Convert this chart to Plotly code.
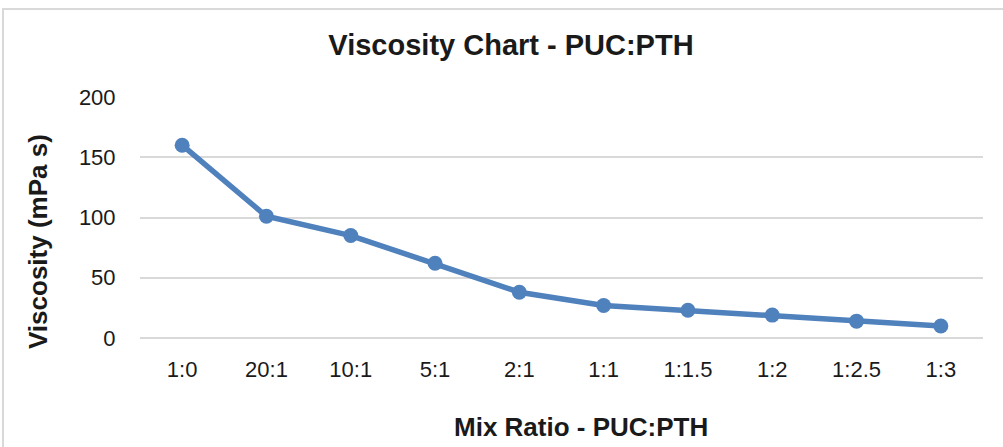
import plotly.graph_objects as go

ratios = ["1:0", "20:1", "10:1", "5:1", "2:1", "1:1", "1:1.5", "1:2", "1:2.5", "1:3"]
viscosity = [160, 101, 85, 62, 38, 27, 23, 19, 14, 10]

L, R, T, B = 140, 20, 97, 109
W, H = 1003, 447
pw, ph = W - L - R, H - T - B

def px(x):
    return (x - L) / pw

def py(y):
    return 1 - (y - T) / ph

fig = go.Figure()
fig.add_trace(go.Scatter(
    x=ratios, y=viscosity, mode="lines+markers",
    line=dict(color="#4F81BD", width=5.5),
    marker=dict(color="#4F81BD", size=15),
    showlegend=False,
))

txt = "#1a1a1a"
fig.update_layout(
    width=W, height=H,
    margin=dict(l=L, r=R, t=T, b=B),
    paper_bgcolor="white", plot_bgcolor="white",
    font=dict(family="Liberation Sans, Arial, sans-serif", color=txt),
    title=dict(text="<b>Viscosity Chart - PUC:PTH</b>", x=px(511), xref="paper",
               xanchor="center", y=1 - 45 / H, yanchor="middle",
               font=dict(size=29, color=txt)),
    xaxis=dict(type="category", range=[-0.5, 9.5], showgrid=False, zeroline=False,
               showline=False, ticks="outside", ticklen=12, tickcolor="rgba(0,0,0,0)",
               tickfont=dict(size=22, color=txt)),
    yaxis=dict(range=[0, 200], tickvals=[0, 50, 100, 150, 200], showgrid=True,
               gridcolor="#D9D9D9", gridwidth=2, zeroline=False, showline=False,
               ticks="outside", ticklen=19, tickcolor="rgba(0,0,0,0)",
               tickfont=dict(size=22, color=txt)),
)

fig.add_annotation(text="<b>Mix Ratio - PUC:PTH</b>", xref="paper", yref="paper",
                   x=px(581), y=py(427), xanchor="center", yanchor="middle",
                   showarrow=False, font=dict(size=26, color=txt))
fig.add_annotation(text="<b>Viscosity (mPa s)</b>", xref="paper", yref="paper",
                   x=px(38), y=py(242), xanchor="center", yanchor="middle", textangle=-90,
                   showarrow=False, font=dict(size=26, color=txt))

fig.add_shape(type="line", xref="paper", yref="paper", x0=0, x1=1, y0=0, y1=0,
              line=dict(color="#D9D9D9", width=2), layer="below")
fig.add_shape(type="rect", xref="paper", yref="paper",
              x0=px(3), x1=px(W + 10), y0=py(H + 10), y1=py(9),
              line=dict(color="#D9D9D9", width=2))

fig.write_html("out.html", config={"displayModeBar": False},
               post_script="document.body.style.margin='0';")
